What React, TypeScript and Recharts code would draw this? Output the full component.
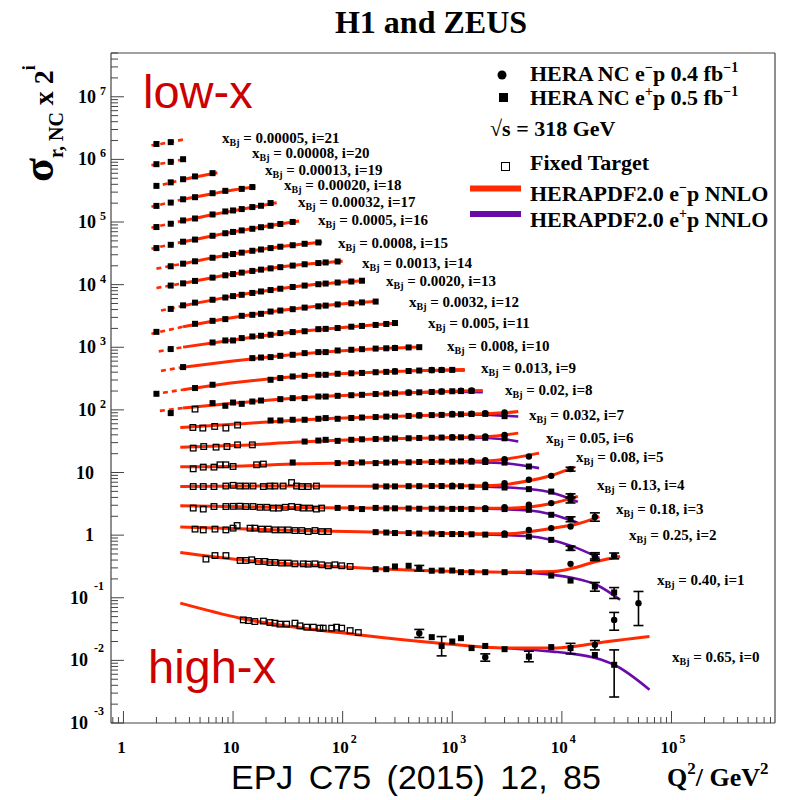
import React from "react";
import { ComposedChart, Line, Scatter, XAxis, YAxis, ErrorBar } from "recharts";

// each point: [Q2, sigma_r, errLow?, errHigh?]; bins are indexed by i (plotted value = sigma_r * 2^i)
type Pt = number[];

const xBj = [
  "0.65", "0.40", "0.25", "0.18", "0.13", "0.08", "0.05", "0.032", "0.02", "0.013", "0.008",
  "0.005", "0.0032", "0.0020", "0.0013", "0.0008", "0.0005", "0.00032", "0.00020", "0.00013", "0.00008", "0.00005",
];

// HERA NC e+p (filled squares)
const heraEp: Pt[][] = [
  [[650, 0.0235], [800, 0.017, 0.0052, 0.007], [1000, 0.02], [1200, 0.0226], [1500, 0.0157], [2000, 0.017], [3000, 0.0151], [5000, 0.0115, 0.002, 0.0025], [8000, 0.0163], [12000, 0.0157, 0.003, 0.003], [20000, 0.0122], [30000, 0.0085, 0.0059, 0.0062]],
  [[200, 0.143], [250, 0.143], [300, 0.158], [400, 0.162], [650, 0.135], [800, 0.136], [1000, 0.136], [1200, 0.128], [1500, 0.128], [2000, 0.128], [3000, 0.128], [5000, 0.128], [8000, 0.113], [12000, 0.094], [20000, 0.0756, 0.012, 0.012], [30000, 0.0607, 0.012, 0.012]],
  [[200, 0.279], [250, 0.275], [300, 0.27], [400, 0.27], [500, 0.265], [650, 0.265], [800, 0.26], [1000, 0.26], [1200, 0.26], [1500, 0.258], [2000, 0.255], [3000, 0.253], [5000, 0.237], [8000, 0.21], [12000, 0.155, 0.012, 0.012], [20000, 0.113, 0.015, 0.018]],
  [[90, 0.34], [120, 0.338], [150, 0.326], [200, 0.34], [250, 0.335], [300, 0.335], [400, 0.333], [500, 0.33], [650, 0.33], [800, 0.33], [1000, 0.328], [1200, 0.328], [1500, 0.326], [2000, 0.326], [3000, 0.326], [5000, 0.317], [8000, 0.264], [12000, 0.225, 0.02, 0.02]],
  [[200, 0.373], [250, 0.375], [300, 0.375], [400, 0.378], [500, 0.378], [650, 0.38], [800, 0.38], [1000, 0.375], [1200, 0.378], [1500, 0.37], [2000, 0.365], [3000, 0.36], [5000, 0.339], [8000, 0.31], [12000, 0.229, 0.025, 0.025]],
  [[35, 0.452], [90, 0.442], [120, 0.442], [150, 0.452], [200, 0.442], [250, 0.45], [300, 0.455], [400, 0.455], [500, 0.46], [650, 0.46], [800, 0.465], [1000, 0.465], [1200, 0.47], [1500, 0.465], [2000, 0.46], [3000, 0.45], [5000, 0.39]],
  [[45, 0.488], [60, 0.506], [70, 0.52], [90, 0.5], [120, 0.52], [150, 0.53], [200, 0.535], [250, 0.54], [300, 0.545], [400, 0.55], [500, 0.555], [650, 0.56], [800, 0.565], [1000, 0.565], [1200, 0.57], [1500, 0.565], [2000, 0.56], [3000, 0.55]],
  [[22, 0.529], [27, 0.529], [35, 0.543], [45, 0.543], [60, 0.563], [70, 0.578], [90, 0.563], [120, 0.58], [150, 0.59], [200, 0.6], [250, 0.61], [300, 0.615], [400, 0.625], [500, 0.635], [650, 0.645], [800, 0.65], [1000, 0.66], [1200, 0.665], [1500, 0.67], [2000, 0.675], [3000, 0.62]],
  [[2.7, 0.347], [6.5, 0.501], [8.5, 0.454], [10, 0.512], [12, 0.488], [15, 0.531], [18, 0.551], [27, 0.58], [35, 0.602], [45, 0.602], [60, 0.638], [70, 0.638], [90, 0.655], [120, 0.67], [150, 0.68], [200, 0.7], [250, 0.71], [300, 0.72], [400, 0.735], [500, 0.745], [650, 0.755], [800, 0.765], [1000, 0.775], [1200, 0.78], [1500, 0.785]],
  [[2, 0.353], [4.5, 0.436], [6.5, 0.492], [22, 0.591], [27, 0.629], [35, 0.667], [45, 0.684], [60, 0.71], [70, 0.71], [90, 0.737], [120, 0.75], [150, 0.76], [200, 0.78], [250, 0.79], [300, 0.8], [400, 0.815], [500, 0.83], [650, 0.84], [800, 0.845], [1000, 0.85]],
  [[3.5, 0.471], [15, 0.655], [18, 0.67], [22, 0.68], [27, 0.713], [35, 0.74], [45, 0.787], [60, 0.817], [70, 0.817], [90, 0.867], [120, 0.89], [150, 0.91], [200, 0.93], [250, 0.94], [300, 0.95], [400, 0.97], [500, 0.98]],
  [[2.7, 0.457], [6.5, 0.582], [8.5, 0.627], [10, 0.627], [12, 0.684], [15, 0.726], [18, 0.745], [22, 0.773], [27, 0.822], [35, 0.853], [45, 0.88], [60, 0.95], [70, 0.96], [90, 0.99], [120, 1.04], [150, 1.07], [200, 1.11], [250, 1.15], [300, 1.19]],
  [[2, 0.43], [4.5, 0.578], [6.5, 0.645], [8.5, 0.687], [12, 0.776], [15, 0.805], [18, 0.835], [22, 0.908], [27, 0.942], [35, 0.99], [45, 1.05], [60, 1.1], [70, 1.13], [90, 1.18], [120, 1.23], [150, 1.27], [200, 1.31]],
  [[2.7, 0.5], [3.5, 0.57], [4.5, 0.63], [6.5, 0.7], [8.5, 0.76], [10, 0.8], [12, 0.84], [15, 0.9], [18, 0.95], [22, 1.0], [27, 1.05], [35, 1.12], [45, 1.18], [60, 1.24], [70, 1.27], [90, 1.32], [120, 1.37], [150, 1.41]],
  [[2.7, 0.59], [3.5, 0.64], [4.5, 0.7], [6.5, 0.79], [8.5, 0.86], [10, 0.9], [12, 0.95], [15, 1.01], [18, 1.06], [22, 1.11], [27, 1.16], [35, 1.23], [45, 1.29], [60, 1.35], [70, 1.38], [90, 1.43]],
  [[2.7, 0.6], [3.5, 0.66], [4.5, 0.72], [6.5, 0.82], [8.5, 0.9], [10, 0.94], [12, 0.99], [15, 1.06], [18, 1.11], [22, 1.17], [27, 1.23], [35, 1.3], [45, 1.37], [60, 1.44]],
  [[2, 0.585], [2.7, 0.66], [3.5, 0.74], [4.5, 0.8], [6.5, 0.92], [8.5, 1.01], [10, 1.06], [12, 1.12], [15, 1.19], [18, 1.26], [22, 1.33], [27, 1.42], [35, 1.53]],
  [[2, 0.634], [2.7, 0.716], [3.5, 0.808], [4.5, 0.869], [6.5, 1.007], [8.5, 1.125], [10, 1.167], [12, 1.228], [15, 1.322], [18, 1.387], [22, 1.532]],
  [[2, 0.69], [2.7, 0.78], [3.5, 0.88], [4.5, 0.95], [6.5, 1.1], [8.5, 1.2], [12, 1.29], [15, 1.38]],
  [[2, 0.72], [2.7, 0.82], [3.5, 0.92], [4.5, 1.02], [6.5, 1.15]],
  [[2, 0.8], [2.7, 0.87], [3.5, 0.96]],
  [[2, 0.84], [2.7, 0.9]],
];

// HERA NC e-p (filled circles)
const heraEm: Pt[][] = [
  [[500, 0.0272, 0.004, 0.004], [2000, 0.0112, 0.0015, 0.0015], [20000, 0.0177, 0.003, 0.003], [30000, 0.0443, 0.014, 0.014], [50000, 0.082, 0.046, 0.044]],
  [[500, 0.149, 0.015, 0.015], [12000, 0.174], [20000, 0.228, 0.02, 0.02], [30000, 0.234, 0.025, 0.025]],
  [[3000, 0.265], [5000, 0.302], [8000, 0.324], [12000, 0.344], [20000, 0.487, 0.07, 0.08]],
  [[2000, 0.335], [3000, 0.35], [5000, 0.381], [8000, 0.406], [12000, 0.53, 0.04, 0.04]],
  [[1000, 0.385], [2000, 0.4], [3000, 0.42], [5000, 0.478], [8000, 0.553], [12000, 0.708, 0.05, 0.05]],
  [[1500, 0.48], [2000, 0.49], [3000, 0.51], [5000, 0.563]],
  [[1000, 0.57], [1500, 0.58], [2000, 0.59], [3000, 0.62]],
  [[500, 0.64], [1000, 0.67], [1500, 0.68], [2000, 0.69], [3000, 0.71]],
  [[400, 0.74], [800, 0.77], [1200, 0.79], [1500, 0.8]],
  [[300, 0.81], [650, 0.845], [800, 0.85]],
  [[300, 0.955]],
  [], [], [], [], [], [], [], [], [], [], [],
];

// fixed target (open squares)
const fixedTarget: Pt[][] = [
  [[12.4, 0.0443], [13.8, 0.0432], [15.8, 0.0417], [18.9, 0.0425], [21.7, 0.0402], [24.1, 0.0393], [26.8, 0.0379], [30.8, 0.0379], [36.7, 0.0393], [40.8, 0.0356], [47, 0.0339], [54, 0.0339], [62, 0.0327], [66.5, 0.0327], [79.4, 0.0327], [88, 0.0339], [98, 0.0327], [117, 0.0299], [139, 0.0278]],
  [[5.66, 0.207], [6.84, 0.236], [8.61, 0.236], [11.6, 0.197], [13.1, 0.197], [14.8, 0.202], [17, 0.19], [19.5, 0.19], [21.7, 0.183], [24.1, 0.183], [27.7, 0.179], [31.9, 0.179], [36.7, 0.174], [43.7, 0.174], [48.5, 0.172], [55.9, 0.174], [64.3, 0.168], [74, 0.162], [85, 0.168], [98, 0.162], [117, 0.158]],
  [[4.5, 0.312], [5.35, 0.303], [6.84, 0.312], [8.6, 0.303], [10, 0.323], [10.9, 0.356], [14.3, 0.323], [15.8, 0.323], [18.2, 0.312], [21, 0.312], [24.1, 0.303], [27.7, 0.303], [31.9, 0.303], [36.7, 0.296], [42.3, 0.296], [48.5, 0.285], [55.9, 0.296], [64.3, 0.285], [74, 0.285]],
  [[4.33, 0.338], [5.35, 0.326], [6.7, 0.358], [8.6, 0.358], [10, 0.36], [11.5, 0.362], [13.1, 0.358], [15.2, 0.358], [17.6, 0.348], [20.3, 0.348], [23.3, 0.338], [26, 0.338], [30, 0.348], [34.2, 0.358], [39.2, 0.348], [43.5, 0.338], [50, 0.338], [57.6, 0.326], [64.3, 0.338]],
  [[4.33, 0.373], [5.35, 0.373], [6.7, 0.373], [8.6, 0.38], [10, 0.39], [11.5, 0.38], [13.1, 0.38], [15.2, 0.38], [18.9, 0.373], [21.7, 0.38], [24.1, 0.38], [28.6, 0.38], [34.2, 0.432], [38, 0.38], [42.3, 0.373], [48.5, 0.373], [57.6, 0.38]],
  [[4.33, 0.358], [5.35, 0.381], [6.7, 0.381], [7.6, 0.415], [8.6, 0.415], [10, 0.39], [16.4, 0.415], [18.9, 0.426]],
  [[4.33, 0.383], [5.4, 0.406], [7, 0.397], [8.8, 0.406], [11, 0.432], [15, 0.432]],
  [[4.3, 0.409], [5.3, 0.4], [6.8, 0.425], [8.6, 0.4], [11, 0.447]],
  [[4.5, 0.402]],
  [], [], [], [], [], [], [], [], [], [], [], [], [],
];

// HERAPDF2.0 e-p NNLO (red)
const fitEm: Pt[][] = [
  [[3.3, 0.082], [11.6, 0.0472], [144, 0.0255], [770, 0.0188], [3150, 0.0157], [8300, 0.0157], [12700, 0.0166], [20600, 0.0188], [63000, 0.024]],
  [[3.3, 0.264], [11.6, 0.202], [150, 0.149], [3100, 0.128], [8300, 0.131], [12700, 0.149], [20600, 0.19], [34000, 0.228]],
  [[3.3, 0.336], [30, 0.3], [300, 0.275], [3000, 0.262], [8000, 0.32], [14000, 0.38], [22000, 0.495]],
  [[3.3, 0.368], [30, 0.345], [300, 0.335], [3000, 0.335], [8000, 0.4], [14000, 0.52]],
  [[3.3, 0.373], [30, 0.38], [300, 0.377], [2000, 0.385], [5000, 0.46], [8000, 0.56], [13000, 0.76]],
  [[3.3, 0.385], [10, 0.395], [40, 0.43], [300, 0.455], [2000, 0.48], [4000, 0.55], [6200, 0.638]],
  [[3.3, 0.397], [10, 0.42], [40, 0.48], [200, 0.535], [1000, 0.565], [2500, 0.6], [4000, 0.665]],
  [[3.3, 0.409], [10, 0.46], [40, 0.54], [200, 0.6], [1000, 0.66], [3000, 0.7], [4000, 0.735]],
  [[2.15, 0.377], [3.5, 0.42], [10, 0.5], [40, 0.61], [200, 0.7], [1000, 0.775], [1900, 0.8]],
  [[1.9, 0.35], [3.5, 0.41], [10, 0.53], [40, 0.67], [200, 0.78], [1300, 0.86]],
  [[2.2, 0.41], [3.5, 0.47], [10, 0.59], [40, 0.76], [150, 0.9], [520, 0.985]],
  [[2.1, 0.42], [3.5, 0.49], [10, 0.64], [40, 0.87], [120, 1.04], [320, 1.19]],
  [[1.8, 0.4], [3.5, 0.52], [10, 0.73], [50, 1.07], [210, 1.32]],
  [[2.2, 0.47], [3.5, 0.56], [10, 0.8], [45, 1.18], [160, 1.42]],
  [[2.0, 0.54], [3.5, 0.64], [10, 0.9], [35, 1.23], [100, 1.44]],
  [[2.0, 0.55], [3.5, 0.66], [10, 0.94], [30, 1.26], [65, 1.46]],
  [[1.8, 0.57], [3.5, 0.74], [10, 1.06], [40, 1.58]],
  [[1.8, 0.62], [3.5, 0.8], [6.5, 1.0], [12, 1.22], [25, 1.55]],
  [[1.8, 0.67], [3.5, 0.88], [6.5, 1.08], [10, 1.24], [16, 1.4]],
  [[1.9, 0.7], [2.7, 0.81], [3.5, 0.91], [4.5, 1.0], [7.2, 1.17]],
  [[1.8, 0.77], [2.7, 0.87], [3.5, 0.955]],
  [[1.8, 0.8], [2.7, 0.9], [3.5, 0.99]],
];

// HERAPDF2.0 e+p NNLO (purple), only where it separates from e-p
const fitEp: Pt[][] = [
  [[3150, 0.0157], [8300, 0.0138], [12700, 0.0127], [20600, 0.0108], [30000, 0.0085], [63000, 0.0034]],
  [[3100, 0.128], [8300, 0.116], [12700, 0.103], [20600, 0.0805], [34000, 0.0464]],
  [[1500, 0.258], [5000, 0.24], [12000, 0.17], [22000, 0.108]],
  [[2000, 0.33], [5000, 0.31], [8000, 0.27], [14000, 0.197]],
  [[1500, 0.378], [5000, 0.34], [8000, 0.3], [14000, 0.212]],
  [[1000, 0.465], [3000, 0.44], [6200, 0.367]],
  [[600, 0.56], [1500, 0.56], [3000, 0.53], [4000, 0.489]],
  [[500, 0.635], [1500, 0.66], [3000, 0.63], [4000, 0.613]],
  [[300, 0.72], [1000, 0.765], [1900, 0.75]],
  [[400, 0.815], [800, 0.838], [1300, 0.835]],
  [], [], [], [], [], [], [], [], [], [], [], [],
];

// label anchor (left, baseline) for each bin's x_Bj annotation
const labelPos = [
  [672, 662], [657, 585], [629, 540], [616, 514], [597, 490], [576, 462], [546, 443], [529, 420],
  [505, 395], [481, 373], [447, 351], [428, 328], [409, 307], [386, 286], [362, 268], [338, 248],
  [318, 225], [298, 207], [284, 190], [265, 175], [252, 158], [222, 143],
];

const RED = "#ff2a00";
const PURPLE = "#6a0aa8";
const SERIF = "'Liberation Serif', 'Times New Roman', serif";
const SANS = "'Liberation Sans', Arial, sans-serif";
const X_DOMAIN = [0.77, 8.8e5];
const Y_DOMAIN = [1e-3, 5e7];
const Q2_CUT = 3.5;
const AXIS = "#444";

const logTicks = (lo: number, hi: number) => {
  const out: number[] = [];
  for (let k = -4; k <= 8; k++)
    for (let m = 1; m <= 9; m++) {
      const v = Number((m * 10 ** k).toPrecision(6));
      if (v >= lo && v <= hi) out.push(v);
    }
  return out;
};
const decade = (v: number) => {
  const l = Math.log10(v);
  const e = Math.round(l);
  return { e, major: Math.abs(l - e) < 1e-9 };
};

const points = (rows: Pt[][]) =>
  rows.flatMap((row, i) =>
    row.map(([q, s, lo, hi]) => ({
      q,
      y: s * 2 ** i,
      err: lo != null ? [lo * 2 ** i, (hi ?? lo) * 2 ** i] : undefined,
    }))
  );
const curve = (row: Pt[], i: number) => row.map(([q, s]) => ({ q, y: s * 2 ** i }));

const tickFont = { fontFamily: SERIF, fontWeight: "bold" as const, fill: "#000" };

const YTick = (props: any) => {
  const { x, y, payload } = props;
  const { e, major } = decade(payload.value);
  let label = null;
  if (major) {
    if (e === 0 || e === 1)
      label = <text x={x - 17} y={y + 6} textAnchor="end" fontSize={18} {...tickFont}>{e === 0 ? "1" : "10"}</text>;
    else
      label = (
        <g>
          <text x={x - (e < 0 ? 23 : 15)} y={y + 6} textAnchor="end" fontSize={18} {...tickFont}>10</text>
          <text x={x - (e < 0 ? 17 : 11)} y={y - (e < 0 ? 8 : 2)} fontSize={12} {...tickFont}>{e}</text>
        </g>
      );
  }
  return (
    <g>
      <line x1={x} x2={x + (major ? 13 : 7)} y1={y} y2={y} stroke={AXIS} strokeWidth={1} />
      {label}
    </g>
  );
};

const XTick = (props: any) => {
  const { x, y, payload } = props;
  const { e, major } = decade(payload.value);
  let label = null;
  if (major) {
    if (e === 0 || e === 1)
      label = <text x={x - 2} y={y + 30} textAnchor="middle" fontSize={17} {...tickFont}>{e === 0 ? "1" : "10"}</text>;
    else
      label = (
        <g>
          <text x={x + 6} y={y + 30} textAnchor="end" fontSize={17} {...tickFont}>10</text>
          <text x={x + 8} y={y + 20} fontSize={12} {...tickFont}>{e}</text>
        </g>
      );
  }
  return (
    <g>
      <line x1={x} x2={x} y1={y} y2={y - (major ? 12 : 6)} stroke={AXIS} strokeWidth={1} />
      {label}
    </g>
  );
};

const Square = (p: any) => <rect x={p.cx - 3} y={p.cy - 3} width={6} height={6} fill="#000" />;
const Dot = (p: any) => <circle cx={p.cx} cy={p.cy} r={3.2} fill="#000" />;
const OpenSquare = (p: any) => (
  <rect x={p.cx - 2.8} y={p.cy - 2.8} width={5.6} height={5.6} fill="none" stroke="#000" strokeWidth={1.3} />
);

const Overlay = () => (
  <svg width={787} height={800} style={{ position: "absolute", left: 0, top: 0, pointerEvents: "none" }}>
    <text x={431} y={33} textAnchor="middle" fontFamily={SERIF} fontWeight="bold" fontSize={32}>H1 and ZEUS</text>
    <text transform="translate(53,182) rotate(-90)" fontFamily={SERIF} fontWeight="bold" fontSize={44}>
      σ<tspan dy={10} fontSize={20}>r, NC</tspan>
      <tspan dy={-10} fontSize={28}> x 2</tspan>
      <tspan dy={-18} fontSize={18}>i</tspan>
    </text>
    <text x={667} y={786} fontFamily={SERIF} fontWeight="bold" fontSize={26}>
      Q<tspan dy={-12} fontSize={17}>2</tspan><tspan dy={12}>/ GeV</tspan><tspan dy={-12} fontSize={17}>2</tspan>
    </text>
    <text x={231} y={789} fontFamily={SANS} fontSize={34} wordSpacing={6}>EPJ C75 (2015) 12, 85</text>
    <text x={143} y={108} fontFamily={SANS} fontSize={47} fill="#cc0000">low-x</text>
    <text x={148} y={683} fontFamily={SANS} fontSize={47} fill="#cc0000">high-x</text>

    <g fontFamily={SERIF} fontWeight="bold" fontSize={22}>
      <circle cx={502} cy={75} r={4.5} fill="#000" />
      <text x={530} y={81}>
        HERA NC e<tspan dy={-9} fontSize={14}>−</tspan><tspan dy={9}>p 0.4 fb</tspan><tspan dy={-9} fontSize={14}>−1</tspan>
      </text>
      <rect x={499} y={93} width={9} height={9} fill="#000" />
      <text x={530} y={105}>
        HERA NC e<tspan dy={-9} fontSize={14}>+</tspan><tspan dy={9}>p 0.5 fb</tspan><tspan dy={-9} fontSize={14}>−1</tspan>
      </text>
      <text x={490} y={136}>√s = 318 GeV</text>
      <rect x={501.5} y={162.5} width={8} height={8} fill="none" stroke="#000" strokeWidth={1} />
      <text x={530} y={170}>Fixed Target</text>
      <line x1={470} x2={521} y1={188.5} y2={188.5} stroke={RED} strokeWidth={6} />
      <text x={530} y={201}>
        HERAPDF2.0 e<tspan dy={-9} fontSize={14}>−</tspan><tspan dy={9}>p NNLO</tspan>
      </text>
      <line x1={470} x2={521} y1={214} y2={214} stroke={PURPLE} strokeWidth={6} />
      <text x={530} y={227}>
        HERAPDF2.0 e<tspan dy={-9} fontSize={14}>+</tspan><tspan dy={9}>p NNLO</tspan>
      </text>
    </g>

    <g fontFamily={SERIF} fontWeight="bold" fontSize={15}>
      {labelPos.map(([lx, ly], i) => (
        <text key={i} x={lx} y={ly}>
          x<tspan dy={3} fontSize={10}>Bj</tspan>
          <tspan dy={-3}>{` = ${xBj[i]}, i=${i}`}</tspan>
        </text>
      ))}
    </g>
  </svg>
);

export default function App() {
  const xTicks = logTicks(X_DOMAIN[0], X_DOMAIN[1]);
  const yTicks = logTicks(Y_DOMAIN[0], Y_DOMAIN[1]);
  const squares = points(heraEp);
  const dots = points(heraEm);
  const opens = points(fixedTarget);

  return (
    <div style={{ position: "absolute", left: 0, top: 0, width: 787, height: 800, background: "#fff" }}>
      <ComposedChart width={787} height={800} margin={{ top: 52, right: 11, bottom: 37, left: 51 }}>
        <XAxis
          dataKey="q" type="number" scale="log" domain={X_DOMAIN} allowDataOverflow
          ticks={xTicks} interval={0} tick={<XTick />} tickLine={false} tickSize={0} tickMargin={0}
          height={40} axisLine={{ stroke: AXIS, strokeWidth: 1.2 }}
        />
        <YAxis
          dataKey="y" type="number" scale="log" domain={Y_DOMAIN} allowDataOverflow
          ticks={yTicks} interval={0} tick={<YTick />} tickLine={false} tickSize={0} tickMargin={0}
          width={60} axisLine={{ stroke: AXIS, strokeWidth: 1.2 }}
        />
        <XAxis xAxisId="top" orientation="top" type="number" scale="log" domain={X_DOMAIN} allowDataOverflow
          ticks={[1, 10]} tick={false} tickLine={false} height={1} axisLine={{ stroke: AXIS, strokeWidth: 1.2 }} />
        <YAxis yAxisId="right" orientation="right" type="number" scale="log" domain={Y_DOMAIN} allowDataOverflow
          ticks={[1, 10]} tick={false} tickLine={false} width={1} axisLine={{ stroke: AXIS, strokeWidth: 1.2 }} />

        {fitEp.map((row, i) =>
          row.length > 1 ? (
            <Line key={`p${i}`} data={curve(row, i)} dataKey="y" type="monotone" stroke={PURPLE}
              strokeWidth={2.6} dot={false} activeDot={false} isAnimationActive={false} />
          ) : null
        )}
        {fitEm.map((row, i) => {
          const c = curve(row, i);
          const cut = c.filter((d) => d.q <= Q2_CUT).length;
          const dashed = c.slice(0, cut);
          const solid = c.slice(Math.max(cut - 1, 0));
          return (
            <React.Fragment key={`r${i}`}>
              {dashed.length > 1 && (
                <Line data={dashed} dataKey="y" type="monotone" stroke={RED} strokeWidth={2.6}
                  strokeDasharray="5 4" dot={false} activeDot={false} isAnimationActive={false} />
              )}
              {solid.length > 1 && (
                <Line data={solid} dataKey="y" type="monotone" stroke={RED} strokeWidth={3}
                  dot={false} activeDot={false} isAnimationActive={false} />
              )}
            </React.Fragment>
          );
        })}

        <Scatter data={opens} dataKey="y" shape={<OpenSquare />} isAnimationActive={false} />
        <Scatter data={squares} dataKey="y" shape={<Square />} isAnimationActive={false}>
          <ErrorBar dataKey="err" direction="y" width={5} stroke="#000" strokeWidth={1.6} />
        </Scatter>
        <Scatter data={dots} dataKey="y" shape={<Dot />} isAnimationActive={false}>
          <ErrorBar dataKey="err" direction="y" width={5} stroke="#000" strokeWidth={1.6} />
        </Scatter>
      </ComposedChart>
      <Overlay />
    </div>
  );
}
